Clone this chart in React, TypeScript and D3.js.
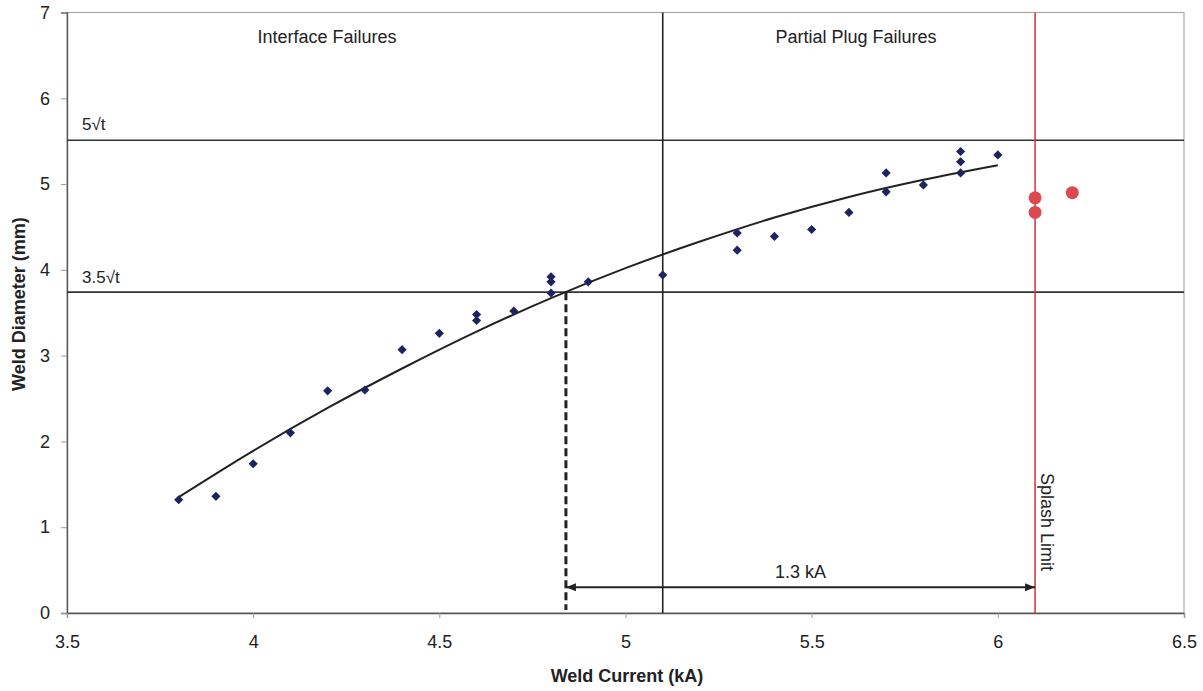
import React, { useEffect, useRef } from 'react';
import * as d3 from 'd3';

// measured welds: current (kA) and diameter (mm)
const currents = [3.8, 3.9, 4.0, 4.1, 4.2, 4.3, 4.4, 4.5, 4.6, 4.6, 4.7, 4.8, 4.8, 4.8, 4.9, 5.1,
  5.3, 5.3, 5.4, 5.5, 5.6, 5.7, 5.7, 5.8, 5.9, 5.9, 5.9, 6.0];
const diameters = [1.32, 1.36, 1.74, 2.10, 2.59, 2.60, 3.07, 3.26, 3.48, 3.41, 3.52, 3.92, 3.86, 3.73, 3.86, 3.94,
  4.43, 4.23, 4.39, 4.47, 4.67, 5.13, 4.91, 4.99, 5.38, 5.26, 5.13, 5.34];

// welds past the splash limit
const splashCurrents = [6.1, 6.1, 6.2];
const splashDiameters = [4.84, 4.67, 4.90];

// trend line
const trendCurrents = [3.8, 4.0, 4.2, 4.4, 4.6, 4.8, 5.0, 5.2, 5.4, 5.6, 5.8, 6.0];
const trendDiameters = [1.35, 1.89, 2.39, 2.85, 3.28, 3.67, 4.02, 4.33, 4.61, 4.85, 5.05, 5.22];

const xTicks = [3.5, 4, 4.5, 5, 5.5, 6, 6.5];
const yTicks = [0, 1, 2, 3, 4, 5, 6, 7];

// reference levels
const limitHigh = 5.51;   // 5√t
const limitLow = 3.74;    // 3.5√t
const failureBoundary = 5.1;
const splashLimit = 6.1;
const crossCurrent = 4.84;
const arrowLevel = 0.3;

const FONT = '"Liberation Sans", Arial, sans-serif';

function App() {
  const svgRef = useRef<SVGSVGElement>(null);

  useEffect(() => {
    const svg = d3.select(svgRef.current);
    svg.selectAll('*').remove();

    const x = d3.scaleLinear().domain([3.5, 6.5]).range([67, 1184]);
    const y = d3.scaleLinear().domain([0, 7]).range([613, 12.5]);

    const defs = svg.append('defs');
    ['start', 'end'].forEach((k) => {
      defs.append('marker')
        .attr('id', 'arrow-' + k)
        .attr('viewBox', '0 0 10 10')
        .attr('refX', k === 'end' ? 10 : 0)
        .attr('refY', 5)
        .attr('markerWidth', 5)
        .attr('markerHeight', 5)
        .attr('orient', 'auto')
        .append('path')
        .attr('d', k === 'end' ? 'M0,1 L10,5 L0,9 Z' : 'M10,1 L0,5 L10,9 Z')
        .attr('fill', '#222');
    });

    // plot area border
    svg.append('rect')
      .attr('x', x(3.5)).attr('y', y(7))
      .attr('width', x(6.5) - x(3.5)).attr('height', y(0) - y(7))
      .attr('fill', 'none').attr('stroke', '#a8a8a8').attr('stroke-width', 1.2);

    // axes
    const yAxis = svg.append('g')
      .attr('transform', `translate(${x(3.5)},0)`)
      .call(d3.axisLeft(y).tickValues(yTicks).tickSize(6).tickPadding(11).tickFormat((d) => String(d)));
    const xAxis = svg.append('g')
      .attr('transform', `translate(0,${y(0)})`)
      .call(d3.axisBottom(x).tickValues(xTicks).tickSize(5).tickPadding(17).tickFormat((d) => String(d)));
    [xAxis, yAxis].forEach((g) => {
      g.select('.domain').attr('stroke', '#555').attr('stroke-width', 1.3);
      g.selectAll('.tick line').attr('stroke', '#999');
      g.selectAll('.tick text').attr('font-family', FONT).attr('font-size', 18).attr('fill', '#222');
    });

    // horizontal limits
    [limitHigh, limitLow].forEach((v) => {
      svg.append('line')
        .attr('x1', x(3.5)).attr('x2', x(6.5))
        .attr('y1', y(v)).attr('y2', y(v))
        .attr('stroke', '#333').attr('stroke-width', 1.6);
    });

    // failure mode boundary
    svg.append('line')
      .attr('x1', x(failureBoundary)).attr('x2', x(failureBoundary))
      .attr('y1', y(7)).attr('y2', y(0))
      .attr('stroke', '#222').attr('stroke-width', 1.6);

    // splash limit
    svg.append('line')
      .attr('x1', x(splashLimit)).attr('x2', x(splashLimit))
      .attr('y1', y(7)).attr('y2', y(0))
      .attr('stroke', '#cc4048').attr('stroke-width', 1.6);

    // dashed drop from trend crossing
    svg.append('line')
      .attr('x1', x(crossCurrent)).attr('x2', x(crossCurrent))
      .attr('y1', y(limitLow)).attr('y2', y(0) - 3)
      .attr('stroke', '#222').attr('stroke-width', 3).attr('stroke-dasharray', '8,4');

    // current window arrow
    svg.append('line')
      .attr('x1', x(crossCurrent)).attr('x2', x(splashLimit))
      .attr('y1', y(arrowLevel)).attr('y2', y(arrowLevel))
      .attr('stroke', '#222').attr('stroke-width', 2)
      .attr('marker-start', 'url(#arrow-start)')
      .attr('marker-end', 'url(#arrow-end)');

    // trend line
    const trend = d3.line<number>()
      .x((d) => x(d))
      .y((d, i) => y(trendDiameters[i]))
      .curve(d3.curveCatmullRom);
    svg.append('path')
      .attr('d', trend(trendCurrents))
      .attr('fill', 'none').attr('stroke', '#222').attr('stroke-width', 2);

    // data points
    const diamond = d3.symbol(d3.symbolSquare, 42);
    svg.selectAll('.pt')
      .data(currents)
      .enter()
      .append('path')
      .attr('class', 'pt')
      .attr('d', diamond)
      .attr('transform', (d, i) => `translate(${x(d)},${y(diameters[i])}) rotate(45)`)
      .attr('fill', '#1d2360');

    svg.selectAll('.splash')
      .data(splashCurrents)
      .enter()
      .append('circle')
      .attr('class', 'splash')
      .attr('cx', (d) => x(d))
      .attr('cy', (d, i) => y(splashDiameters[i]))
      .attr('r', 6.5)
      .attr('fill', '#dc4a50');

    // annotations
    const label = (tx: number, ty: number, text: string, anchor = 'start', size = 17) =>
      svg.append('text')
        .attr('x', tx).attr('y', ty)
        .attr('text-anchor', anchor)
        .attr('font-family', FONT).attr('font-size', size)
        .attr('fill', '#222')
        .text(text);

    label(327, 43, 'Interface Failures', 'middle', 18);
    label(856, 43, 'Partial Plug Failures', 'middle', 18);
    label(82, y(limitHigh) - 10, '5\u221At');
    label(82, y(limitLow) - 9, '3.5\u221At');
    label((x(crossCurrent) + x(splashLimit)) / 2, y(arrowLevel) - 9, '1.3 kA', 'middle', 18);

    svg.append('text')
      .attr('transform', `translate(${x(splashLimit) + 6},473) rotate(90)`)
      .attr('font-family', FONT).attr('font-size', 18)
      .attr('fill', '#222')
      .text('Splash Limit');

    svg.append('text')
      .attr('x', 627).attr('y', 682)
      .attr('text-anchor', 'middle')
      .attr('font-family', FONT).attr('font-size', 18).attr('font-weight', 'bold')
      .attr('fill', '#222')
      .text('Weld Current (kA)');

    svg.append('text')
      .attr('transform', `translate(25,${y(3.6)}) rotate(-90)`)
      .attr('text-anchor', 'middle')
      .attr('font-family', FONT).attr('font-size', 18).attr('font-weight', 'bold')
      .attr('fill', '#222')
      .text('Weld Diameter (mm)');
  }, []);

  return (
    <svg ref={svgRef} width={1203} height={691}
      style={{ position: 'absolute', left: 0, top: 0, background: '#fff' }} />
  );
}

export default App;
